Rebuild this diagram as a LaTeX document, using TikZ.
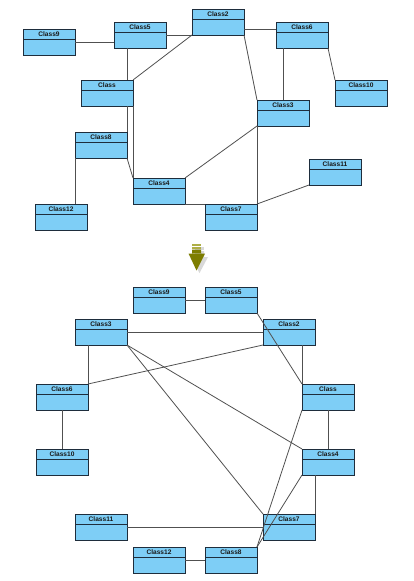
\documentclass[tikz,border=0pt]{standalone}
\usepackage{fontspec}
\setmainfont{Liberation Sans}
\definecolor{clsfill}{RGB}{126,206,246}
\definecolor{clsdraw}{RGB}{30,45,60}
\definecolor{edgecol}{RGB}{80,80,80}
\definecolor{olivehead}{RGB}{125,125,0}
\definecolor{olivestripe}{RGB}{175,175,70}
\tikzset{
  cls/.style={draw=clsdraw, fill=clsfill, line width=0.9pt, minimum width=52pt, minimum height=26pt, inner sep=0pt, outer sep=0pt},
  clsline/.style={draw=clsdraw, line width=0.9pt},
  clstxt/.style={font=\fontsize{6.6}{7}\selectfont\bfseries, inner sep=0pt, text=black!90},
  edge/.style={draw=edgecol, line width=0.8pt}
}
\newcommand\umlbox[4]{%
  \node[cls] (#1) at (#2+26,#3+13) {};
  \draw[clsline] ([yshift=-10pt]#1.north west) -- ([yshift=-10pt]#1.north east);
  \node[clstxt] (#1lbl) at ([yshift=-5pt]#1.north) {#4};
}
\begin{document}
\begin{tikzpicture}[x=1pt,y=-1pt]
\useasboundingbox (0,0) rectangle (413,581);
% ---------- top diagram ----------
\umlbox{t9}{23}{29}{Class9}
\umlbox{t5}{114}{22}{Class5}
\umlbox{t2}{192}{9}{Class2}
\umlbox{t6}{276}{22}{Class6}
\umlbox{t10}{335}{80}{Class10}
\umlbox{tC}{81}{80}{Class}
\umlbox{t3}{257}{100}{Class3}
\umlbox{t8}{75}{132}{Class8}
\umlbox{t11}{309}{159}{Class11}
\umlbox{t4}{133}{178}{Class4}
\umlbox{t12}{35}{204}{Class12}
\umlbox{t7}{205}{204}{Class7}
\path[edge] (t9.east) -- (t9.east -| t5.west);
\path[edge] (t5.east) -- (t2.south west);
\path[edge] ([yshift=-7pt]t2.east) -- ([yshift=6pt]t6.west);
\path[edge] ([xshift=-13pt]t5.south) -- ([xshift=20pt]tC.north);
\path[edge] (t2.south west) -- (tC.north east);
\path[edge] (t2.south east) -- (t3.north west);
\path[edge] ([xshift=-19pt]t6.south) -- (t3.north);
\path[edge] (t6.south east) -- (t10.north west);
\path[edge] ([xshift=20pt]tC.south) -- (t8.north east);
\path[edge] (t8.south east) -- (t4.north west);
\path[edge] (tC.south east) -- (t4.north west);
\path[edge] (t8.south west) -- ([xshift=14pt]t12.north);
\path[edge] (t3.south west) -- (t4.north east);
\path[edge] (t3.south west) -- (t7.north east);
\path[edge] (t4.south east) -- (t7.north west);
\path[edge] (t11.south west) -- (t7.north east);
% ---------- arrow ----------
\fill[black!25, opacity=0.6] (195,247) rectangle (204,250);
\fill[black!25, opacity=0.6] (195,251) rectangle (204,257) (191,257) -- (208,257) -- (199.5,273) -- cycle;
\fill[olivestripe] (192,244) rectangle (201,246);
\fill[olivestripe] (192,247) rectangle (201,249);
\fill[olivehead] (192,249.5) rectangle (201,254) (188.5,253.5) -- (205,253.5) -- (196.5,270.5) -- cycle;
% ---------- bottom diagram ----------
\umlbox{b9}{133}{287}{Class9}
\umlbox{b5}{205}{287}{Class5}
\umlbox{b3}{75}{319}{Class3}
\umlbox{b2}{263}{319}{Class2}
\umlbox{b6}{36}{384}{Class6}
\umlbox{bC}{302}{384}{Class}
\umlbox{b10}{36}{449}{Class10}
\umlbox{b4}{302}{449}{Class4}
\umlbox{b11}{75}{514}{Class11}
\umlbox{b7}{263}{514}{Class7}
\umlbox{b12}{133}{547}{Class12}
\umlbox{b8}{205}{547}{Class8}
\path[edge] (b9.east) -- (b5.west);
\path[edge] (b5.south east) -- (bC.north west);
\path[edge] (b3.east) -- (b2.west);
\path[edge] ([xshift=-13pt]b3.south) -- (b6.north east);
\path[edge] (b2.south west) -- (b6.north east);
\path[edge] ([xshift=13pt]b2.south) -- (bC.north west);
\path[edge] (b3.south east) -- (b4.north west);
\path[edge] (b3.south east) -- (b7.north west);
\path[edge] (b6.south) -- (b10.north);
\path[edge] (bC.south) -- (b4.north);
\path[edge] (bC.south west) -- (b8.north east);
\path[edge] (b4.south west) -- (b8.north east);
\path[edge] ([xshift=-13pt]b4.south) -- (b7.north east);
\path[edge] (b11.east) -- (b7.west);
\path[edge] (b12.east) -- (b8.west);
\end{tikzpicture}
\end{document}
